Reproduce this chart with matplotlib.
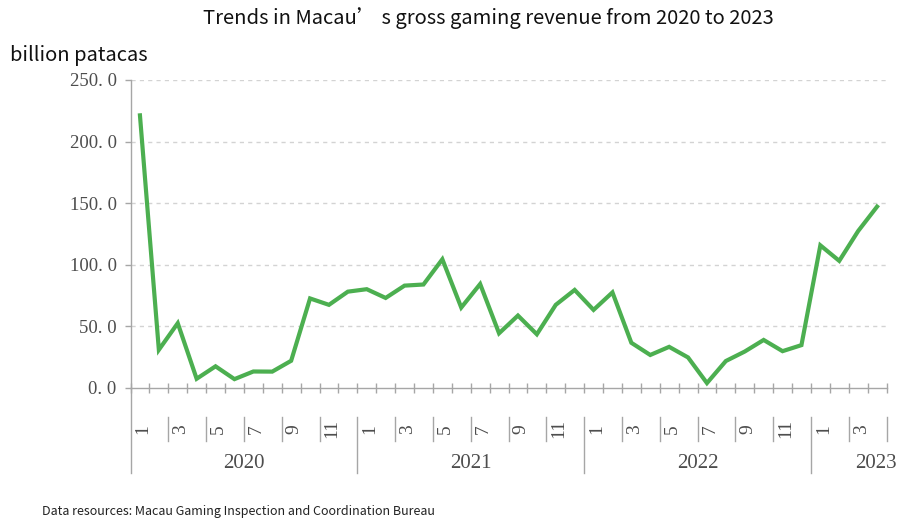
import matplotlib
matplotlib.use("Agg")
import matplotlib.pyplot as plt
import matplotlib.transforms as mtransforms
import numpy as np

# ---- data ----
years = ["2020", "2021", "2022", "2023"]
months_per_year = [12, 12, 12, 4]
revenue = [
    221.3, 31.0, 52.6, 7.5, 17.6, 7.2, 13.4, 13.3, 22.1, 72.7, 67.5, 78.2,   # 2020
    80.2, 73.1, 83.1, 84.0, 104.5, 65.3, 84.4, 44.4, 58.8, 43.6, 67.5, 79.6, # 2021
    63.4, 77.6, 36.7, 26.8, 33.4, 24.8, 4.0, 21.9, 29.6, 39.0, 29.9, 34.8,   # 2022
    115.8, 103.2, 127.4, 147.2,                                               # 2023
]
yticks = [0, 50, 100, 150, 200, 250]
ytick_labels = ["0. 0", "50. 0", "100. 0", "150. 0", "200. 0", "250. 0"]

months = [m for n in months_per_year for m in range(1, n + 1)]
x = np.arange(len(revenue))

W, H = 897, 522
fig = plt.figure(figsize=(W / 100, H / 100), dpi=100)
left, right, bottom_px, top_px = 130.5, 886.5, 388, 80
ax = fig.add_axes([left / W, (H - bottom_px) / H, (right - left) / W, (bottom_px - top_px) / H])

sans = ["Noto Sans CJK SC", "DejaVu Sans"]
serif = ["Liberation Serif", "DejaVu Serif"]
axis_col = "#a6a6a6"
text_col = "#4d4d4d"

ax.plot(x, revenue, color="#4caf50", lw=3.0, solid_joinstyle="miter", zorder=3)

ax.set_xlim(-0.5, len(revenue) - 0.5)
ax.set_ylim(0, 250)

# gridlines
for yv in yticks[1:]:
    ax.axhline(yv, color="#d3d3d3", lw=1.0, ls=(0, (3, 3)), zorder=1)

for s in ["top", "right"]:
    ax.spines[s].set_visible(False)
for s in ["left", "bottom"]:
    ax.spines[s].set_color(axis_col)
    ax.spines[s].set_linewidth(1.0)

ax.set_yticks(yticks)
ax.set_yticklabels(ytick_labels, family=serif, fontsize=13.5, color=text_col)
ax.tick_params(axis="y", direction="out", length=4, width=1, color=axis_col, pad=6)

ax.set_xticks([])
ax.set_xticks(np.arange(-0.5, len(revenue), 1.0), minor=True)
ax.tick_params(axis="x", which="minor", direction="inout", length=7, width=1, color=axis_col)
ax.tick_params(axis="x", which="major", length=0)

tr = ax.get_xaxis_transform()
tr_lbl = mtransforms.offset_copy(tr, fig=fig, x=3, y=0, units="dots")
ypix = lambda p: (bottom_px - p) / (bottom_px - top_px)

# month labels & separators
for xi, m in zip(x, months):
    if m % 2 == 1:
        ax.text(xi, ypix(429), str(m), transform=tr_lbl, rotation=90, ha="center", va="center",
                family=serif, fontsize=14, color=text_col)
        if m != 1:
            ax.plot([xi - 0.5, xi - 0.5], [ypix(417), ypix(441)], transform=tr, color=axis_col,
                    lw=1, clip_on=False)
ax.plot([len(revenue) - 0.5] * 2, [ypix(417), ypix(441)], transform=tr, color=axis_col, lw=1, clip_on=False)

# year separators and labels
start = 0
for yr, n in zip(years, months_per_year):
    ax.plot([start - 0.5] * 2, [0 if start == 0 else ypix(417), ypix(473)], transform=tr,
            color=axis_col, lw=1, clip_on=False)
    cx = start - 0.5 + n / 2
    if n < 12:
        cx = start - 0.5 + n - 0.55
    ax.text(cx, ypix(463), yr, transform=tr, ha="center", va="center",
            family=serif, fontsize=15, color=text_col)
    start += n

fig.text(488 / W, 1 - 18 / H, "Trends in Macau\u2019 s gross gaming revenue from 2020 to 2023",
         ha="center", va="center", family=sans, fontsize=14.5, color="#111111")
fig.text(10 / W, 1 - 55 / H, "billion patacas", ha="left", va="center", family=sans,
         fontsize=14.5, color="#111111")
fig.text(42 / W, 1 - 511 / H, "Data resources: Macau Gaming Inspection and Coordination Bureau",
         ha="left", va="center", family=sans, fontsize=9, color="#222222")

fig.savefig("out.png", dpi=100)
